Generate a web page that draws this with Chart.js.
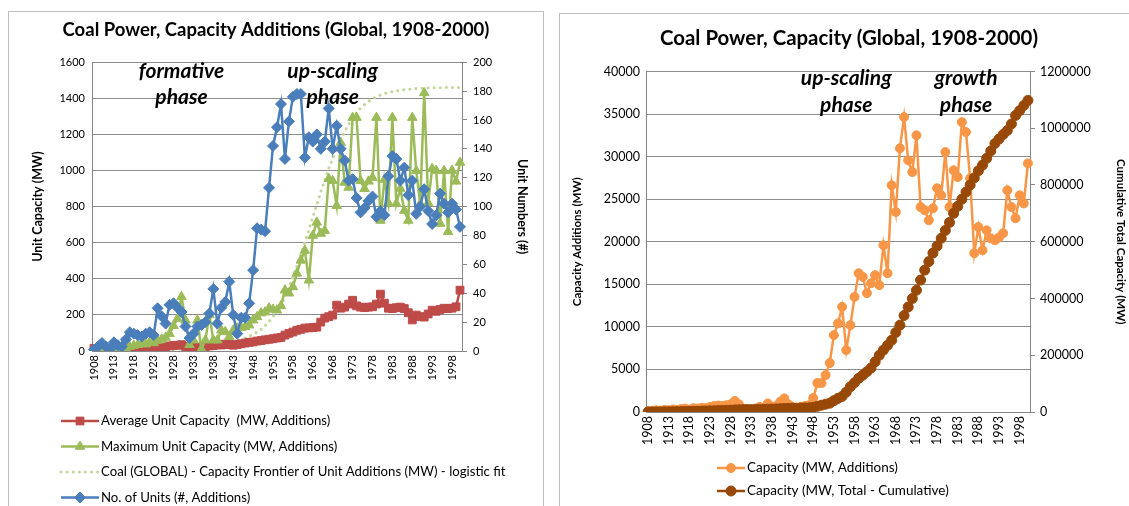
<!DOCTYPE html>
<html>
<head>
<meta charset="utf-8">
<script src="https://cdn.jsdelivr.net/npm/chart.js@4.4.0/dist/chart.umd.min.js"></script>
<style>
body { margin: 0; width: 1129px; height: 506px; overflow: hidden; background: #fff; font-family: Lato, sans-serif; }
.panel { position: absolute; border: 1px solid #bfbfbf; background: #fff; }
#p1 { left: 8px; top: 11px; width: 534px; height: 520px; }
#p2 { left: 559px; top: 13px; width: 600px; height: 520px; }
canvas { position: absolute; left: 0; top: 0; }
</style>
</head>
<body>
<div class="panel" id="p1"><canvas id="c1" width="534" height="500"></canvas></div>
<div class="panel" id="p2"><canvas id="c2" width="578" height="500"></canvas></div>
<script>
// years 1908-2000
var years = [1908,1909,1910,1911,1912,1913,1914,1915,1916,1917,
  1918,1919,1920,1921,1922,1923,1924,1925,1926,1927,
  1928,1929,1930,1931,1932,1933,1934,1935,1936,1937,
  1938,1939,1940,1941,1942,1943,1944,1945,1946,1947,
  1948,1949,1950,1951,1952,1953,1954,1955,1956,1957,
  1958,1959,1960,1961,1962,1963,1964,1965,1966,1967,
  1968,1969,1970,1971,1972,1973,1974,1975,1976,1977,
  1978,1979,1980,1981,1982,1983,1984,1985,1986,1987,
  1988,1989,1990,1991,1992,1993,1994,1995,1996,1997,
  1998,1999,2000];

// left chart (MW, left axis)
var avgUnitCap = [15,12,10,8,10,12,9,11,10,12,
  14,12,15,13,16,12,18,20,22,28,
  30,32,35,25,20,22,18,22,25,28,
  30,35,33,38,36,32,36,40,44,48,
  50,55,58,62,65,68,72,75,88,98,
  105,115,120,127,128,130,132,160,182,190,
  199,254,237,243,260,281,250,243,240,243,
  245,260,315,265,237,235,240,243,235,212,
  172,199,190,188,205,226,220,230,237,235,
  237,245,337];
var maxUnitCap = [5,3,8,5,10,8,14,10,18,25,
  30,35,42,38,48,45,58,65,75,95,
  140,180,300,170,35,60,170,10,60,200,
  60,60,115,106,79,115,126,130,134,143,
  171,189,210,215,237,230,226,250,337,320,
  355,430,502,557,392,640,713,651,667,954,
  943,805,1155,934,906,1293,1293,943,899,940,
  961,1293,723,950,820,1293,816,900,778,723,
  1293,998,816,1430,820,1010,1000,706,998,660,
  1000,940,1044];
var logisticFit = [1,1,1,1,1,2,2,2,2,3,
  3,3,4,4,5,5,6,6,7,7,
  8,9,10,11,12,14,16,18,20,22,
  24,27,31,36,41,47,54,62,71,81,
  92,105,120,140,162,190,220,255,300,350,
  410,470,535,600,670,740,810,880,945,1010,
  1065,1120,1170,1215,1255,1290,1320,1345,1365,1383,
  1397,1408,1418,1426,1432,1437,1441,1445,1448,1450,
  1452,1454,1455,1456,1457,1458,1458,1459,1459,1460,
  1460,1460,1460];
// left chart (#, right axis)
var unitCount = [1,3,5.5,3,1,6,4,3,8,13,
  12,11,10,12,13,11,29.6,24,19,32,
  33,30,27,17,9,12,17,18,20,26,
  43,19,30,34,48,25,12,23,23,33,
  56,85,84,83,113,142,155,171,133,159,
  176,178,178,134,148,145,150,140,145,168,
  140,156,140,132,118,119,106,96,99,104,
  107,93,97,94,121,135,133,118,127,108,
  118,95,100,112,97,88,94,109,102,96,
  102,98,86];

// right chart (MW)
var capAdditions = [100,150,200,150,250,200,300,250,350,400,
  300,450,400,500,450,600,700,750,700,800,
  900,1300,900,400,300,200,400,600,500,1000,
  600,700,1200,1600,900,600,400,600,700,800,
  1640,3400,3400,4340,5750,9030,10400,12350,7270,10200,
  13520,16300,15870,13960,15130,16070,14900,19590,16300,26630,
  23500,30970,34640,29560,28190,32500,24080,23700,22520,23930,
  26280,25450,30530,24080,28390,27600,34050,32880,27450,18650,
  21730,19000,21340,20400,20180,20500,21000,26040,24080,22760,
  25450,24500,29200];
var capCumulative = [100,200,350,450,650,800,1050,1250,1550,1900,
  2150,2500,2800,3200,3550,4000,4500,5000,5450,6000,
  6600,7400,8000,8250,8450,8600,8850,9200,9500,10100,
  10450,10850,11550,12450,12950,13350,13550,13900,14300,14800,
  16500,20000,24000,27500,31000,40000,48000,55000,70000,89000,
  103000,118600,130000,142000,155000,177000,200000,218000,235000,253000,
  280000,306000,340000,370000,400000,429000,465000,500000,530000,560000,
  585000,612000,640000,668000,700000,725000,750000,775000,800000,825000,
  850000,870000,894000,920000,946000,962000,978000,992000,1015000,1045000,
  1062000,1080000,1098000];

// phase labels: [text, year, value on left axis]
var leftNotes = [['formative', 1930, 1550], ['phase', 1930, 1407], ['up-scaling', 1968, 1550], ['phase', 1968, 1407]];
var rightNotes = [['up-scaling', 1956, 39200], ['phase', 1956, 36000], ['growth', 1985, 39200], ['phase', 1985, 36000]];

var FONT = 'Lato';
var gridGray = '#8c8c8c';
var axisGray = '#868686';

function yearTick(v, i) { return i % 5 === 0 ? String(years[i]) : ''; }
function plainTick(v) { return String(v); }

// legend drawn as a vertical list under the chart
var listLegend = {
  id: 'listLegend',
  afterDraw: function(chart, args, opts) {
    var ctx = chart.ctx;
    ctx.save();
    chart.data.datasets.forEach(function(ds, i) {
      var y = opts.y + i * opts.gap;
      var x = opts.x;
      ctx.strokeStyle = ds.borderColor;
      ctx.lineWidth = ds.borderWidth;
      ctx.lineCap = ds.borderCapStyle || 'butt';
      ctx.setLineDash(ds.borderDash || []);
      ctx.beginPath();
      ctx.moveTo(x, y);
      ctx.lineTo(x + opts.w, y);
      ctx.stroke();
      ctx.setLineDash([]);
      if (ds.pointRadius > 0) {
        ctx.fillStyle = ds.backgroundColor;
        ctx.strokeStyle = ds.borderColor;
        ctx.lineWidth = 1;
        Chart.helpers.drawPoint(ctx, {pointStyle: ds.pointStyle, radius: ds.pointRadius, rotation: 0, borderWidth: 1}, x + opts.w / 2, y);
      }
      ctx.fillStyle = '#000';
      ctx.font = opts.size + 'px ' + FONT;
      ctx.textAlign = 'left';
      ctx.textBaseline = 'middle';
      ctx.fillText(ds.label, x + opts.w + 2, y);
    });
    ctx.restore();
  }
};

var phaseNotes = {
  id: 'phaseNotes',
  afterDraw: function(chart, args, opts) {
    var ctx = chart.ctx;
    ctx.save();
    ctx.fillStyle = '#000';
    ctx.font = 'italic bold 21px ' + FONT;
    ctx.textAlign = 'center';
    ctx.textBaseline = 'middle';
    opts.notes.forEach(function(n) {
      var x = chart.scales.x.getPixelForValue(years.indexOf(n[1]));
      var y = chart.scales.y.getPixelForValue(n[2]);
      ctx.fillText(n[0], x, y);
    });
    ctx.restore();
  }
};

var leftTick = {family: FONT, size: 11};
var leftAxisTitle = {family: FONT, size: 12.5, weight: 'bold'};

new Chart(document.getElementById('c1'), {
  type: 'line',
  data: {
    labels: years,
    datasets: [
      { label: 'Average Unit Capacity  (MW, Additions)', data: avgUnitCap, yAxisID: 'y', order: 2,
        borderColor: '#be4b48', backgroundColor: '#be4b48', borderWidth: 2.5,
        pointStyle: 'rect', pointRadius: 5.5, pointBorderWidth: 1 },
      { label: 'Maximum Unit Capacity (MW, Additions)', data: maxUnitCap, yAxisID: 'y', order: 1,
        borderColor: '#9bbb59', backgroundColor: '#9bbb59', borderWidth: 2.5,
        pointStyle: 'triangle', pointRadius: 5.5, pointBorderWidth: 1 },
      { label: 'Coal (GLOBAL) - Capacity Frontier of Unit Additions (MW) - logistic fit', data: logisticFit, yAxisID: 'y', order: 3,
        borderColor: '#c3d69b', backgroundColor: '#c3d69b', borderWidth: 3,
        borderDash: [0.1, 6], borderCapStyle: 'round', pointRadius: 0 },
      { label: 'No. of Units (#, Additions)', data: unitCount, yAxisID: 'y1', order: 0,
        borderColor: '#4a7ebb', backgroundColor: '#4a7ebb', borderWidth: 2.5,
        pointStyle: 'rectRot', pointRadius: 5.5, pointBorderWidth: 1 }
    ]
  },
  options: {
    responsive: false, animation: false, devicePixelRatio: 1,
    layout: { padding: { left: 0, right: 0, top: 0, bottom: 111 } },
    elements: { line: { tension: 0 } },
    plugins: {
      legend: { display: false },
      tooltip: { enabled: false },
      title: { display: true, text: 'Coal Power, Capacity Additions (Global, 1908-2000)', color: '#000',
        font: { family: FONT, size: 18.5, weight: 'bold' }, padding: { top: 7, bottom: 21 } },
      listLegend: { x: 52, y: 409, gap: 25.5, w: 38, size: 13.2 },
      phaseNotes: { notes: leftNotes }
    },
    scales: {
      x: {
        offset: true,
        grid: { display: false, drawTicks: false },
        border: { display: true, color: axisGray },
        ticks: { autoSkip: false, minRotation: 90, maxRotation: 90, padding: 4, font: leftTick, color: '#000', callback: yearTick },
        afterFit: function(s) { s.height = 50; }
      },
      y: {
        position: 'left', min: 0, max: 1600,
        grid: { color: gridGray, drawTicks: false },
        border: { display: true, color: axisGray },
        ticks: { stepSize: 200, padding: 7, font: leftTick, color: '#000', callback: plainTick },
        title: { display: true, text: 'Unit Capacity (MW)', color: '#000', font: leftAxisTitle, padding: { top: 21, bottom: 0 } },
        afterFit: function(s) { s.width = 83; }
      },
      y1: {
        position: 'right', min: 0, max: 200,
        grid: { drawOnChartArea: false, drawTicks: true, tickLength: 5, color: axisGray },
        border: { display: true, color: axisGray },
        ticks: { stepSize: 20, padding: 6, font: leftTick, color: '#000', callback: plainTick },
        title: { display: true, text: 'Unit Numbers (#)', color: '#000', font: leftAxisTitle, padding: { top: 13, bottom: 0 } },
        afterFit: function(s) { s.width = 81; }
      }
    }
  },
  plugins: [listLegend, phaseNotes]
});

var rightTick = {family: FONT, size: 12.5};
var rightAxisTitle = {family: FONT, size: 11.5, weight: 'bold'};

new Chart(document.getElementById('c2'), {
  type: 'line',
  data: {
    labels: years,
    datasets: [
      { label: 'Capacity (MW, Additions)', data: capAdditions, yAxisID: 'y', order: 1,
        borderColor: '#f79646', backgroundColor: '#f79646', borderWidth: 2.5,
        pointStyle: 'circle', pointRadius: 4.5, pointBorderWidth: 1 },
      { label: 'Capacity (MW, Total - Cumulative)', data: capCumulative, yAxisID: 'y1', order: 0,
        borderColor: '#984807', backgroundColor: '#984807', borderWidth: 2.5,
        pointStyle: 'circle', pointRadius: 5, pointBorderWidth: 1 }
    ]
  },
  options: {
    responsive: false, animation: false, devicePixelRatio: 1,
    layout: { padding: { left: 0, right: 0, top: 0, bottom: 54 } },
    elements: { line: { tension: 0 } },
    plugins: {
      legend: { display: false },
      tooltip: { enabled: false },
      title: { display: true, text: 'Coal Power, Capacity (Global, 1908-2000)', color: '#000',
        font: { family: FONT, size: 20.4, weight: 'bold' }, padding: { top: 12, bottom: 21 } },
      listLegend: { x: 157, y: 454, gap: 23, w: 28, size: 13.5 },
      phaseNotes: { notes: rightNotes }
    },
    scales: {
      x: {
        offset: true,
        grid: { display: false, drawTicks: false },
        border: { display: true, color: axisGray },
        ticks: { autoSkip: false, minRotation: 90, maxRotation: 90, padding: 4, font: rightTick, color: '#000', callback: yearTick },
        afterFit: function(s) { s.height = 48; }
      },
      y: {
        position: 'left', min: 0, max: 40000,
        grid: { color: gridGray, drawTicks: false },
        border: { display: true, color: axisGray },
        ticks: { stepSize: 5000, padding: 6, font: rightTick, color: '#000', callback: plainTick },
        title: { display: true, text: 'Capacity Additions (MW)', color: '#000', font: rightAxisTitle, padding: { top: 10, bottom: 0 } },
        afterFit: function(s) { s.width = 86; }
      },
      y1: {
        position: 'right', min: 0, max: 1200000,
        grid: { drawOnChartArea: false, drawTicks: true, tickLength: 5, color: axisGray },
        border: { display: true, color: axisGray },
        ticks: { stepSize: 200000, padding: 5, font: rightTick, color: '#000', callback: plainTick },
        title: { display: true, text: 'Cumulative Total Capacity (MW)', color: '#000', font: rightAxisTitle, padding: { top: 10, bottom: 0 } },
        afterFit: function(s) { s.width = 108; }
      }
    }
  },
  plugins: [listLegend, phaseNotes]
});
</script>
</body>
</html>
